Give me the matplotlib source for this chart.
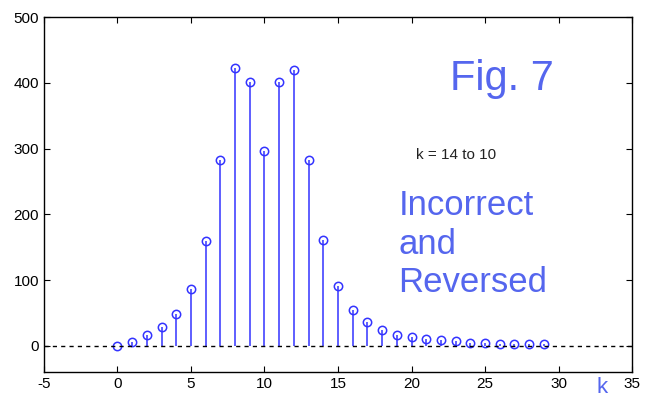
import numpy as np
import matplotlib.pyplot as plt

k = np.arange(30)
values = [0, 6, 16, 28, 48, 87, 159, 283, 423, 401,
          297, 401, 420, 283, 161, 91, 54, 36, 24, 17,
          13, 11, 9, 7, 5, 5, 3, 3, 3, 3]

x_ticks = [-5, 0, 5, 10, 15, 20, 25, 30, 35]
y_ticks = [0, 100, 200, 300, 400, 500]

plt.rcParams['font.family'] = ['Liberation Sans', 'DejaVu Sans']
plt.rcParams['axes.unicode_minus'] = False

fig = plt.figure(figsize=(6.45, 3.98), dpi=100)
ax = fig.add_axes([0.068, 0.065, 0.912, 0.892])

markers, stems, base = ax.stem(k, values, linefmt='-', markerfmt='o', basefmt='--')
plt.setp(stems, color='#3333ff', linewidth=1.1)
plt.setp(markers, markerfacecolor='none', markeredgecolor='#3333ff',
         markersize=6, markeredgewidth=1.1)
plt.setp(base, color='black', linewidth=1.0, dashes=(3, 3))
base.set_xdata([-5, 35])

ax.set_xlim(-5, 35)
ax.set_ylim(-40, 500)
ax.set_xticks(x_ticks)
ax.set_yticks(y_ticks)
ax.tick_params(direction='in', length=4, labelsize=11, top=True, right=True,
               labeltop=False, labelright=False)
for s in ax.spines.values():
    s.set_linewidth(1.0)

blue = '#5566ee'
ax.text(0.69, 0.795, "Fig. 7", transform=ax.transAxes, fontsize=30, color=blue)
ax.text(0.633, 0.60, "k = 14 to 10", transform=ax.transAxes, fontsize=11, color='#222222')
ax.text(0.603, 0.225, "Incorrect\nand\nReversed", transform=ax.transAxes,
        fontsize=25, color=blue, linespacing=1.22)
fig.text(0.925, 0.012, "k", fontsize=16, color=blue)

fig.savefig("out.png", dpi=100)
plt.close(fig)
